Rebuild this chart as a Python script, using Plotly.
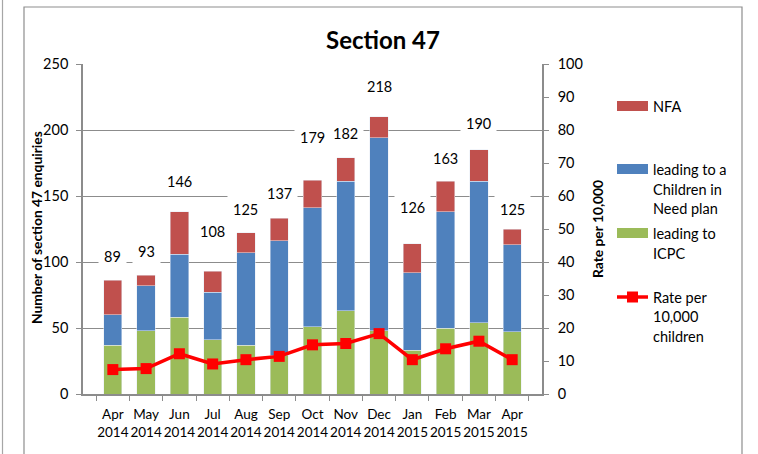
import plotly.graph_objects as go

months = ["Apr<br>2014", "May<br>2014", "Jun<br>2014", "Jul<br>2014", "Aug<br>2014", "Sep<br>2014",
          "Oct<br>2014", "Nov<br>2014", "Dec<br>2014", "Jan<br>2015", "Feb<br>2015", "Mar<br>2015", "Apr<br>2015"]
icpc = [37, 48, 58, 41, 37, 29, 51, 63, 48, 33, 50, 54, 47]
cin = [23, 34, 48, 36, 70, 87, 90, 98, 146, 59, 88, 107, 66]
nfa = [26, 8, 32, 16, 15, 17, 21, 18, 16, 22, 23, 24, 12]
totals = [89, 93, 146, 108, 125, 137, 179, 182, 218, 126, 163, 190, 125]
rate = [7.4, 7.7, 12.2, 9.1, 10.4, 11.4, 14.9, 15.3, 18.3, 10.4, 13.7, 16.0, 10.4]

FONT = "Lato"
GREEN, BLUE, RED, LINE = "#9BBB59", "#4F81BD", "#C0504D", "#FF0000"
GRID = "#8C8C8C"
FS = 14.5

W, H = 758, 454
L, R, T, B = 83, 216, 64, 60
PW, PH = W - L - R, H - T - B


def px(x):
    return (x - L) / PW


def py(y):
    return (H - B - y) / PH


fig = go.Figure()
fig.add_bar(x=months, y=icpc, marker_color=GREEN, name="leading to ICPC")
fig.add_bar(x=months, y=cin, marker_color=BLUE, name="leading to a Children in Need plan")
fig.add_bar(x=months, y=nfa, marker_color=RED, name="NFA")
fig.add_scatter(x=months, y=rate, yaxis="y2", mode="lines+markers",
                line=dict(color=LINE, width=3.5),
                marker=dict(symbol="square", size=11, color=LINE),
                name="Rate per 10,000 children")

annotations = []
for m, t in zip(months, totals):
    annotations.append(dict(x=m, y=t, xref="x", yref="y", text=str(t), showarrow=False,
                            yshift=20, bgcolor="white", borderpad=5,
                            font=dict(family=FONT, size=FS, color="#000")))

# titles
annotations.append(dict(x=px(383), y=py(39), xref="paper", yref="paper", text="<b>Section 47</b>",
                        showarrow=False, font=dict(family=FONT, size=24, color="#000"),
                        xanchor="center", yanchor="middle"))
annotations.append(dict(x=px(36), y=py(228), xref="paper", yref="paper",
                        text="<b>Number of section 47 enquiries</b>", textangle=-90,
                        showarrow=False, font=dict(family=FONT, size=13.8, color="#000"),
                        xanchor="center", yanchor="middle"))
annotations.append(dict(x=px(597), y=py(229), xref="paper", yref="paper",
                        text="<b>Rate per 10,000</b>", textangle=-90,
                        showarrow=False, font=dict(family=FONT, size=13.8, color="#000"),
                        xanchor="center", yanchor="middle"))

shapes = []
# legend
legend_items = [
    ("bar", RED, 106, ["NFA"], [106]),
    ("bar", BLUE, 169, ["leading to a", "Children in", "Need plan"], [169, 189, 208]),
    ("bar", GREEN, 233, ["leading to", "ICPC"], [233, 253]),
    ("line", LINE, 297, ["Rate per", "10,000", "children"], [297, 316, 336]),
]
for kind, col, ysym, lines, ys in legend_items:
    if kind == "bar":
        shapes.append(dict(type="rect", xref="paper", yref="paper", x0=px(617), x1=px(648),
                           y0=py(ysym + 5), y1=py(ysym - 5), fillcolor=col, line_width=0))
    else:
        shapes.append(dict(type="line", xref="paper", yref="paper", x0=px(617), x1=px(648),
                           y0=py(ysym), y1=py(ysym), line=dict(color=col, width=3.5)))
        shapes.append(dict(type="rect", xref="paper", yref="paper", x0=px(627), x1=px(638),
                           y0=py(ysym + 5.5), y1=py(ysym - 5.5), fillcolor=col, line_width=0))
    for txt, yy in zip(lines, ys):
        annotations.append(dict(x=px(651), y=py(yy), xref="paper", yref="paper", text=txt,
                                showarrow=False, xanchor="left", yanchor="middle",
                                font=dict(family=FONT, size=FS, color="#000")))

# chart border and left divider
shapes.append(dict(type="rect", xref="paper", yref="paper", x0=px(24), x1=px(742),
                   y0=py(470), y1=py(7), line=dict(color="#8E8E8E", width=1.2), layer="below"))
shapes.append(dict(type="line", xref="paper", yref="paper", x0=px(2.5), x1=px(2.5),
                   y0=py(470), y1=py(-5), line=dict(color="#A6A6A6", width=1.2), layer="below"))

fig.update_layout(
    width=W, height=H,
    margin=dict(l=L, r=R, t=T, b=B, autoexpand=False),
    barmode="stack", bargap=0.45,
    showlegend=False,
    plot_bgcolor="white", paper_bgcolor="white",
    font=dict(family=FONT, size=FS, color="#000"),
    xaxis=dict(type="category", showline=True, linecolor=GRID, linewidth=1.5,
               ticks="outside", ticklen=5, tickcolor=GRID, tickson="boundaries",
               tickangle=0, ticklabelstandoff=7,
               tickfont=dict(family=FONT, size=13.5, color="#000"), showgrid=False),
    yaxis=dict(range=[0, 250], dtick=50, showline=True, linecolor=GRID, linewidth=1.5,
               ticks="outside", ticklen=5, tickcolor=GRID, showgrid=True, gridcolor=GRID,
               gridwidth=1, zeroline=False, ticklabelstandoff=5,
               tickfont=dict(family=FONT, size=FS, color="#000")),
    yaxis2=dict(range=[0, 100], dtick=10, overlaying="y", side="right", showline=True,
                linecolor=GRID, linewidth=1.5, ticks="outside", ticklen=5, tickcolor=GRID,
                showgrid=False, zeroline=False, ticklabelstandoff=6,
                tickfont=dict(family=FONT, size=FS, color="#000")),
    annotations=annotations,
    shapes=shapes,
)

fig.write_html("out.html", config={"displayModeBar": False},
               post_script="document.body.style.margin='0';document.body.style.overflow='hidden';")
